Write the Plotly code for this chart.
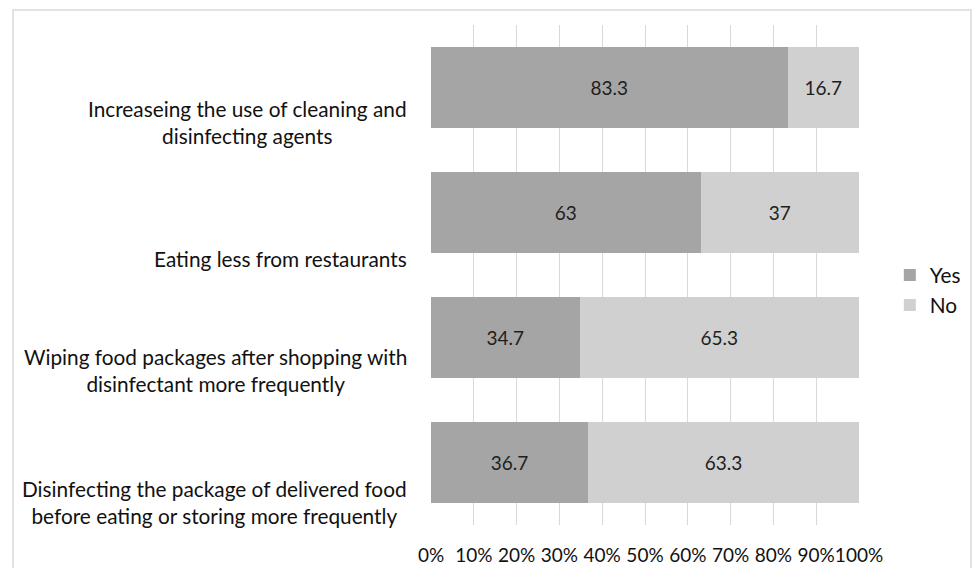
import plotly.graph_objects as go

categories = [
    "Increaseing the use of cleaning and<br>disinfecting agents",
    "Eating less from restaurants",
    "Wiping food packages after shopping with<br>disinfectant more frequently",
    "Disinfecting the package of delivered food<br>before eating or storing more frequently",
]
cat_keys = ["c1", "c2", "c3", "c4"]
yes_values = [83.3, 63, 34.7, 36.7]
no_values = [16.7, 37, 65.3, 63.3]
tick_vals = [0, 10, 20, 30, 40, 50, 60, 70, 80, 90, 100]
tick_text = ["0%", "10%", "20%", "30%", "40%", "50%", "60%", "70%", "80%", "90%", "100%"]

# label vertical offsets (px) to mimic the original layout
label_shifts = [-34, -46, -32, -39]

FONT = "Lato"
FS = 19
LFS = 20.8

fig = go.Figure()
fig.add_trace(go.Bar(
    y=cat_keys, x=yes_values, name="Yes", orientation="h",
    marker=dict(color="#a5a5a5", line=dict(width=0)),
    text=[str(v) for v in yes_values], textposition="inside",
    insidetextanchor="middle",
    textfont=dict(family=FONT, size=FS, color="#1e1e1e"),
))
fig.add_trace(go.Bar(
    y=cat_keys, x=no_values, name="No", orientation="h",
    marker=dict(color="#d0d0d0", line=dict(width=0)),
    text=[str(v) for v in no_values], textposition="inside",
    insidetextanchor="middle",
    textfont=dict(family=FONT, size=FS, color="#1e1e1e"),
))

annotations = []
for key, lab, sh in zip(cat_keys, categories, label_shifts):
    annotations.append(dict(
        x=-0.052, xref="paper", y=key, yref="y", yshift=sh,
        text=lab, showarrow=False, xanchor="right", yanchor="middle",
        align="center", font=dict(family=FONT, size=LFS, color="#111111"),
    ))

fig.update_layout(
    width=972, height=568,
    margin=dict(l=431, r=113, t=25, b=43, autoexpand=False),
    barmode="stack", bargap=0.35,
    plot_bgcolor="white", paper_bgcolor="white",
    font=dict(family=FONT, size=FS, color="#111111"),
    uniformtext=dict(minsize=10, mode="show"),
    xaxis=dict(
        range=[0, 100], tickvals=tick_vals, ticktext=tick_text,
        showgrid=True, gridcolor="#d9d9d9", gridwidth=1,
        zeroline=False, showline=False, ticks="", tickangle=0,
        automargin=False,
        tickfont=dict(family=FONT, size=FS, color="#111111"),
        ticklabelstandoff=17, fixedrange=True,
    ),
    yaxis=dict(
        categoryorder="array", categoryarray=cat_keys, autorange="reversed",
        showticklabels=False, showgrid=False, zeroline=False, ticks="",
        automargin=False,
    ),
    legend=dict(
        x=1.072, xanchor="left", y=0.54, yanchor="top",
        font=dict(family=FONT, size=LFS, color="#111111"),
        traceorder="normal", bgcolor="rgba(0,0,0,0)",
    ),
    annotations=annotations,
    shapes=[dict(
        type="rect", xref="paper", yref="paper",
        x0=-0.9766, x1=1.2617, y0=-0.12, y1=1.03,
        line=dict(color="#d9d9d9", width=1.5), fillcolor="rgba(0,0,0,0)",
        layer="below",
    )],
    showlegend=True,
)

fig.write_html("out.html")
